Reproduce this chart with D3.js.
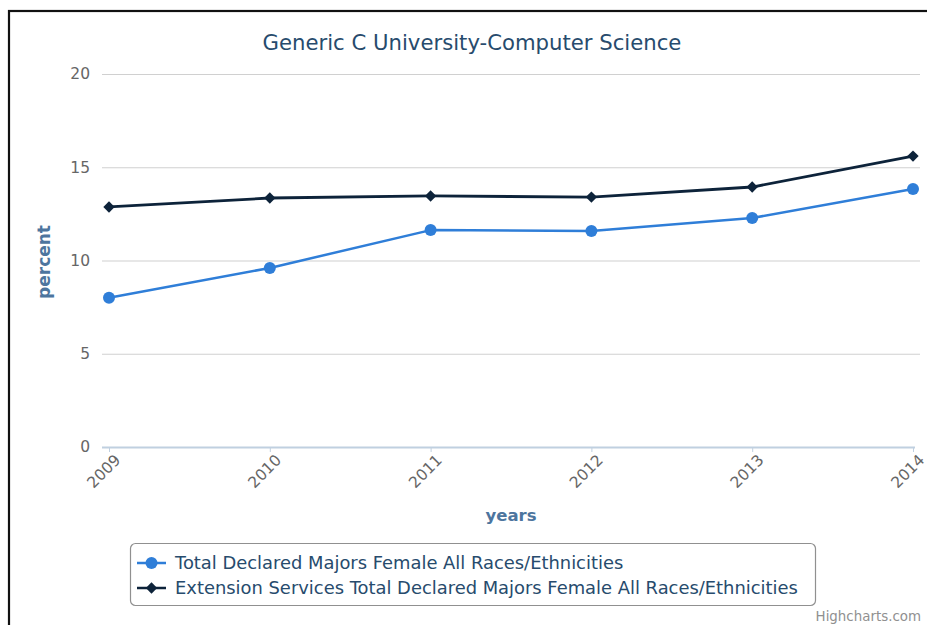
<!DOCTYPE html>
<html>
<head>
<meta charset="utf-8">
<script src="https://cdn.jsdelivr.net/npm/d3@7"></script>
<style>
  html, body { margin: 0; padding: 0; background: #fff; }
  svg { display: block; font-family: "DejaVu Sans", sans-serif; }
</style>
</head>
<body>
<svg id="chart" width="927" height="625"></svg>
<script>
// Chart data
const years = ["2009", "2010", "2011", "2012", "2013", "2014"];
const totalDeclared = [8.0, 9.6, 11.63, 11.58, 12.28, 13.83];
const extensionDeclared = [12.87, 13.35, 13.46, 13.40, 13.94, 15.60];
const yTicks = [0, 5, 10, 15, 20];
const seriesNames = [
  "Total Declared Majors Female All Races/Ethnicities",
  "Extension Services Total Declared Majors Female All Races/Ethnicities"
];
const seriesColors = ["#2f7ed8", "#0d233a"];

const svg = d3.select("#chart");
const W = 927, H = 625;

// Frame
svg.append("rect").attr("x", 9).attr("y", 11).attr("width", W + 10).attr("height", H + 10)
  .attr("fill", "none").attr("stroke", "#111").attr("stroke-width", 2.2);

const plot = { left: 102, right: 920, top: 74, bottom: 447 };

const x = d3.scalePoint().domain(years).range([109, 913]);
const y = d3.scaleLinear().domain([0, 20]).range([plot.bottom, plot.top]);

// Title
svg.append("text").attr("x", 472).attr("y", 50).attr("text-anchor", "middle")
  .attr("font-size", 21.2).attr("fill", "#274b6d").text("Generic C University-Computer Science");

// Gridlines and y labels
const yAxis = d3.axisLeft(y).tickValues(yTicks).tickSize(-(plot.right - plot.left)).tickPadding(12);
const gy = svg.append("g").attr("transform", `translate(${plot.left},0)`).call(yAxis);
gy.select(".domain").remove();
gy.selectAll(".tick line").attr("stroke", "#d0d0d0").attr("stroke-width", 1.2);
gy.selectAll(".tick text").attr("fill", "#666").attr("font-size", 15.5)
  .attr("font-family", "'DejaVu Sans', sans-serif");
gy.selectAll(".tick").filter(d => d === 0).select("line").remove();

// X axis
const xAxis = d3.axisBottom(x).tickSize(5).tickPadding(4);
const gx = svg.append("g").attr("transform", `translate(0,${plot.bottom})`).call(xAxis);
gx.select(".domain").attr("d", `M${plot.left},0.5H${915}`).attr("stroke", "#c0d0e0").attr("stroke-width", 2);
gx.selectAll(".tick line").attr("stroke", "#c0d0e0").attr("stroke-width", 1).attr("y1", 0);
gx.selectAll(".tick text").attr("fill", "#666").attr("font-size", 15.5)
  .attr("font-family", "'DejaVu Sans', sans-serif")
  .attr("text-anchor", "end").attr("dy", null).attr("y", 0)
  .attr("transform", "translate(12,14) rotate(-45)");

// Axis titles
svg.append("text").attr("transform", "translate(50,262) rotate(-90)").attr("text-anchor", "middle")
  .attr("font-size", 17).attr("font-weight", "bold").attr("fill", "#4d759e").text("percent");
svg.append("text").attr("x", 511).attr("y", 521).attr("text-anchor", "middle")
  .attr("font-size", 16.5).attr("font-weight", "bold").attr("fill", "#4d759e").text("years");

// Lines
const line = d3.line().x((d, i) => x(years[i])).y(d => y(d));
const data = [totalDeclared, extensionDeclared];
data.forEach((vals, si) => {
  svg.append("path").datum(vals).attr("d", line).attr("fill", "none")
    .attr("stroke", seriesColors[si]).attr("stroke-width", si === 0 ? 2.5 : 2.8)
    .attr("stroke-linejoin", "round");
});

// Markers: circles for the first series, square diamonds for the second
const circleSym = d3.symbol().type(d3.symbolCircle).size(Math.PI * 36);
const diamondSym = d3.symbol().type(d3.symbolSquare).size(64);
svg.append("g").selectAll("path").data(totalDeclared).join("path")
  .attr("d", circleSym).attr("fill", seriesColors[0])
  .attr("transform", (d, i) => `translate(${x(years[i])},${y(d)})`);
svg.append("g").selectAll("path").data(extensionDeclared).join("path")
  .attr("d", diamondSym).attr("fill", seriesColors[1])
  .attr("transform", (d, i) => `translate(${x(years[i])},${y(d)}) rotate(45)`);

// Legend
const legend = svg.append("g");
legend.append("rect").attr("x", 130.5).attr("y", 543.5).attr("width", 685).attr("height", 62)
  .attr("rx", 5).attr("fill", "#fff").attr("stroke", "#909090").attr("stroke-width", 1.2);
seriesNames.forEach((name, i) => {
  const ly = 563 + i * 25;
  legend.append("line").attr("x1", 137).attr("x2", 166).attr("y1", ly).attr("y2", ly)
    .attr("stroke", seriesColors[i]).attr("stroke-width", 2.5);
  legend.append("path").attr("d", i === 0 ? circleSym() : diamondSym())
    .attr("fill", seriesColors[i])
    .attr("transform", `translate(151.5,${ly})` + (i === 0 ? "" : " rotate(45)"));
  legend.append("text").attr("x", 175).attr("y", ly + 6).attr("font-size", 17.9)
    .attr("fill", "#274b6d").text(name);
});

// Credit
svg.append("text").attr("x", 921).attr("y", 621).attr("text-anchor", "end")
  .attr("font-size", 13.4).attr("fill", "#909090").text("Highcharts.com");
</script>
</body>
</html>
